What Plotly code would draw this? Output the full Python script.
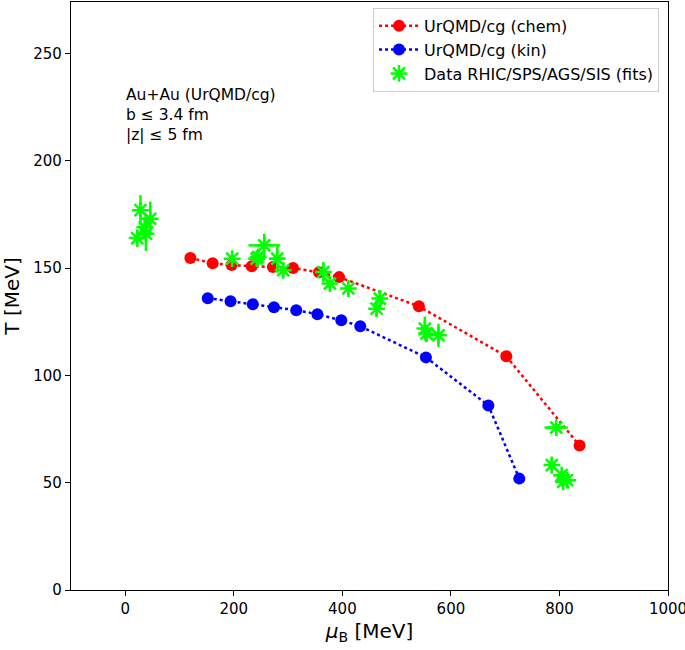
import plotly.graph_objects as go

# UrQMD/cg chemical freeze-out
chem_mu = [120, 161, 196, 233, 272, 309, 357, 394, 541, 702, 837]
chem_T = [154.7, 152.3, 151.4, 150.9, 150.5, 150.0, 148.1, 145.8, 132.2, 108.9, 67.3]

# UrQMD/cg kinetic freeze-out
kin_mu = [152, 194, 235, 274, 315, 354, 398, 433, 554, 669, 726]
kin_T = [136.0, 134.6, 133.2, 131.8, 130.4, 128.5, 125.7, 122.9, 108.4, 86.0, 51.9]

# experimental fits (None breaks the faint connecting line)
data_mu = [22, 28, 36, 38, 46, None, 197, 242, 245, 256, 280, 291, 365, 377, 411, 463, 469, 552, 555, 577, None,
           794, None, 786, 804, 807, 814]
data_T = [164, 177, 169, 166, 173, None, 154.4, 154.4, 155.2, 160.6, 154.4, 149.0, 148.2, 142.8, 140.5, 131.1,
          135.8, 121.8, 119.5, 118.7, None, 75.7, None, 58.2, 53.5, 50.4, 51.2]
data_dT = [4, 7, 5, 8, 8, None, 2, 2, 3, 5.4, 6.6, 3.3, 4.7, 3, 3, 3.9, 3.9, 5.6, 4, 5.4, None, 1.5, None, 3.9, 2, 2, 2]
data_dmu = [0, 0, 0, 0, 0, None, 0, 0, 0, 29, 14, 0, 0, 0, 0, 0, 0, 0, 0, 0, None, 21.5, None, 0, 0, 0, 17]

fig = go.Figure()

fig.add_trace(go.Scatter(x=data_mu, y=data_T, mode='lines', line=dict(color='rgba(0,255,0,0.3)', width=1, dash='dot'),
                         showlegend=False, hoverinfo='skip'))

fig.add_trace(go.Scatter(x=chem_mu, y=chem_T, mode='lines+markers', name='UrQMD/cg (chem)',
                         line=dict(color='#ff0000', width=2.5, dash='dot'),
                         marker=dict(color='#ff0000', size=12)))
fig.add_trace(go.Scatter(x=kin_mu, y=kin_T, mode='lines+markers', name='UrQMD/cg (kin)',
                         line=dict(color='#0000ff', width=2.5, dash='dot'),
                         marker=dict(color='#0000ff', size=12)))
fig.add_trace(go.Scatter(x=data_mu, y=data_T, mode='markers', name='Data RHIC/SPS/AGS/SIS (fits)',
                         marker=dict(symbol='asterisk', size=14, color='#00ff00', line=dict(color='#00ff00', width=2.5)),
                         error_y=dict(type='data', array=data_dT, color='#00ff00', thickness=2.5, width=0),
                         error_x=dict(type='data', array=data_dmu, color='#00ff00', thickness=2.5, width=0)))

fig.add_annotation(x=-3, y=236, xref='x', yref='y', xanchor='left', yanchor='top', align='left', showarrow=False,
                   text='Au+Au (UrQMD/cg)<br>b ≤ 3.4 fm<br>|z| ≤ 5 fm', font=dict(size=15.5, color='black'))

axis_style = dict(showline=True, linecolor='black', linewidth=1.2, mirror=True, ticks='outside', ticklen=5,
                  tickcolor='black', showgrid=False, zeroline=False, tickfont=dict(size=15, color='black'),
                  ticklabeloverflow='allow', automargin=False)

fig.update_layout(
    width=685, height=650,
    margin=dict(l=71, r=17, t=2, b=60),
    plot_bgcolor='white', paper_bgcolor='white',
    font=dict(family='DejaVu Sans', color='black'),
    legend=dict(x=0.985, y=0.99, xanchor='right', yanchor='top', bordercolor='#cccccc', borderwidth=1,
                bgcolor='white', font=dict(size=16), itemwidth=40, tracegroupgap=0),
    xaxis=dict(range=[-100, 1000], tickvals=[0, 200, 400, 600, 800, 1000],
               title=dict(text='<i>μ</i><sub>B</sub> [MeV]', font=dict(size=20), standoff=6), **axis_style),
    yaxis=dict(range=[0, 274], tickvals=[0, 50, 100, 150, 200, 250],
               title=dict(text='T [MeV]', font=dict(size=20), standoff=12), **axis_style),
)

fig.write_html("out.html", config={'displayModeBar': False}, post_script="document.body.style.margin='0';")
